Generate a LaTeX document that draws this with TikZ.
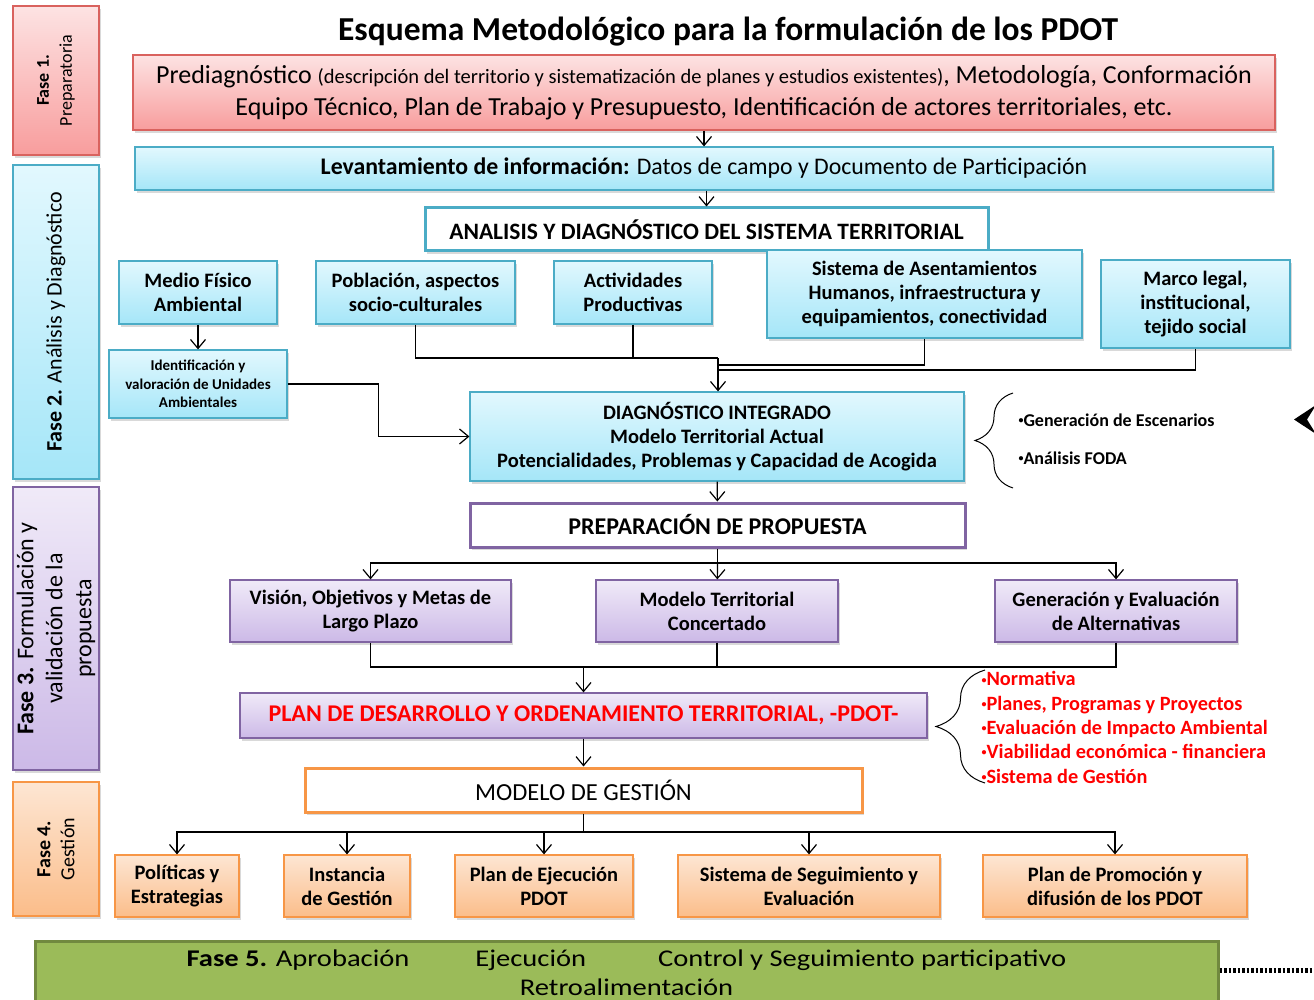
\documentclass[tikz,border=0pt]{standalone}
\usepackage{fontspec}
\setmainfont{Carlito}
\newfontfamily\widefont[FakeStretch = 1.19]{Carlito}
\usetikzlibrary{
    shadows,
    decorations.pathreplacing,
    arrows.meta,
    calc
}
\definecolor{pinkA}{HTML}{FDE3E3}
\definecolor{pinkB}{HTML}{F89D9D}
\definecolor{pinkD}{HTML}{D9625E}
\definecolor{cyanA}{HTML}{E2F8FE}
\definecolor{cyanB}{HTML}{A5E6F8}
\definecolor{cyanD}{HTML}{4BACC6}
\definecolor{purA}{HTML}{F0EAF8}
\definecolor{purB}{HTML}{CCB9E7}
\definecolor{purD}{HTML}{8064A2}
\definecolor{oraA}{HTML}{FDE6D3}
\definecolor{oraB}{HTML}{FBBD8A}
\definecolor{oraD}{HTML}{F79646}
\definecolor{grnF}{HTML}{9BBB59}
\definecolor{grnD}{HTML}{71893F}
\newcommand{\fs}[2]{\fontsize{#1}{#2}\selectfont}
\newcommand{\bul}{\raisebox{.3ex}{\fs{10}{10}•}}
\tikzset {
    box/.style = {
        draw, line width = 1.2pt, inner sep = 0pt, align = center,
        drop shadow = {opacity = .3, shadow xshift = 2pt, shadow yshift = -3pt}
    },
    pink box/.style = {box, draw = pinkD, top color = pinkA, bottom color = pinkB},
    cyan box/.style = {box, draw = cyanD, top color = cyanA, bottom color = cyanB},
    purple box/.style = {box, draw = purD, top color = purA, bottom color = purB},
    orange box/.style = {box, draw = oraD, top color = oraA, bottom color = oraB},
    frame box/.style = {box, fill = white, line width = 3pt},
    %
    phase/.style = {
        draw, line width = 1.2pt, rotate = 90, inner sep = 0pt,
        align = center, minimum height = 86,
        drop shadow = {opacity = .3, shadow xshift = 2pt, shadow yshift = -3pt}
    },
    line/.style = {line width = 1.2pt},
    arr/.style = {line, -{Straight Barb[length = 9pt, width = 15pt]}},
    curly/.style = {
        decorate, line width = 1pt,
        decoration = {brace, amplitude = #1}
    },
    boxtext/.style = {font = \fs{20.5}{24}\bfseries}
}

\begin{document}
\begin{tikzpicture}[x = 1pt, y = -1pt]
    \useasboundingbox (0, 0) rectangle (1314, 1000);

    % fases
    \node (f1) [phase, top color = pinkA, bottom color = pinkB, draw = pinkD,
        minimum width = 149, font = \fs{18}{23}] at (56, 80.5)
        {\textbf{Fase 1.}\\Preparatoria};
    \node (f2) [phase, top color = cyanA, bottom color = cyanB, draw = cyanD,
        minimum width = 314, font = \fs{22}{24}] at (56, 322)
        {\textbf{Fase 2.} Análisis y Diagnóstico};
    \node (f3) [phase, top color = purA, bottom color = purB, draw = purD,
        minimum width = 283, font = \fs{24}{29}] at (56, 628.5)
        {\textbf{Fase 3.} Formulación y\\validación de la\\propuesta};
    \node (f4) [phase, top color = oraA, bottom color = oraB, draw = oraD,
        minimum width = 134, font = \fs{20}{24}] at (56, 849)
        {\textbf{Fase 4.}\\Gestión};

    \node (tit) [font = \fs{33.5}{36}\bfseries] at (728, 32)
        {Esquema Metodológico para la formulación de los PDOT};

    \node (pre) [pink box, minimum width = 1142, minimum height = 75,
        font = \fs{26}{32}] at (704, 92.5)
        {Prediagnóstico {\fs{20.5}{20}(descripción del territorio y sistematización
        de planes y estudios existentes)}, Metodología, Conformación\\
        Equipo Técnico, Plan de Trabajo y Presupuesto, Identificación de actores
        territoriales, etc.};
    \node (lev) [cyan box, minimum width = 1138, minimum height = 43,
        font = \fs{23.8}{24}] at (704, 168.5)
        {\textbf{Levantamiento de información:} Datos de campo y Documento de
        Participación};
    \node (ana) [frame box, draw = cyanD, minimum width = 563, minimum height = 43,
        font = \fs{23.5}{24}\bfseries] at (706.5, 229.5)
        {ANALISIS Y DIAGNÓSTICO DEL SISTEMA TERRITORIAL};

    % subsistemas
    \node (med) [cyan box, boxtext, minimum width = 158, minimum height = 63]
        at (198, 292.5) {Medio Físico\\Ambiental};
    \node (pob) [cyan box, boxtext, minimum width = 199, minimum height = 63]
        at (415.5, 292.5) {Población, aspectos\\socio-culturales};
    \node (act) [cyan box, boxtext, minimum width = 158, minimum height = 63]
        at (633, 292.5) {Actividades\\Productivas};
    \node (asn) [cyan box, boxtext, minimum width = 315, minimum height = 88]
        at (924.5, 294)
        {Sistema de Asentamientos\\Humanos, infraestructura y\\equipamientos, conectividad};
    \node (mar) [cyan box, boxtext, minimum width = 189, minimum height = 88]
        at (1195.5, 304) {Marco legal,\\institucional,\\tejido social};
    \node (idn) [cyan box, minimum width = 178, minimum height = 68,
        font = \fs{15}{18.5}\bfseries] at (198, 384)
        {Identificación y\\valoración de Unidades\\Ambientales};

    \node (diag) [cyan box, boxtext, minimum width = 494, minimum height = 89]
        at (717, 436.5)
        {DIAGNÓSTICO INTEGRADO\\Modelo Territorial Actual\\Potencialidades, Problemas
        y Capacidad de Acogida};
    \node (esc) [anchor = west, align = left, font = \fs{18}{38}\bfseries]
        at (1015, 439) {\bul Generación de Escenarios\\\bul Análisis FODA};

    \node (prep) [frame box, draw = purD, minimum width = 495, minimum height = 44,
        font = \fs{24}{24}\bfseries] at (717.5, 525)
        {PREPARACIÓN DE PROPUESTA};

    \node (vis) [purple box, boxtext, minimum width = 281, minimum height = 62]
        at (370.5, 611) {Visión, Objetivos y Metas de\\Largo Plazo};
    \node (mod) [purple box, boxtext, minimum width = 242, minimum height = 62]
        at (717, 611) {Modelo Territorial\\Concertado};
    \node (gen) [purple box, boxtext, minimum width = 242, minimum height = 62]
        at (1116, 611) {Generación y Evaluación\\de Alternativas};

    \node (plan) [purple box, minimum width = 687, minimum height = 45,
        font = \fs{24}{24}\bfseries, text = red] at (583.5, 715.5)
        {PLAN DE DESARROLLO Y ORDENAMIENTO TERRITORIAL, -PDOT-};
    \node (ins) [anchor = west, align = left, text = red,
        font = \fs{20.3}{24.3}\bfseries] at (978, 727.5)
        {\bul Normativa\\\bul Planes, Programas y Proyectos\\\bul Evaluación de Impacto Ambiental\\
        \bul Viabilidad económica - financiera\\\bul Sistema de Gestión};

    \node (mg) [frame box, draw = oraD, minimum width = 557, minimum height = 44,
        font = \fs{24.5}{24}] at (583.5, 790) {MODELO DE GESTIÓN};

    % gestion
    \node (pol) [orange box, boxtext, minimum width = 124, minimum height = 62]
        at (177, 886) {Políticas y\\Estrategias};
    \node (ist) [orange box, boxtext, minimum width = 126, minimum height = 62]
        at (347, 886) {Instancia\\de Gestión};
    \node (pej) [orange box, boxtext, minimum width = 178, minimum height = 62]
        at (544, 886) {Plan de Ejecución\\PDOT};
    \node (sis) [orange box, boxtext, minimum width = 262, minimum height = 62]
        at (809, 886) {Sistema de Seguimiento y\\Evaluación};
    \node (pro) [orange box, boxtext, minimum width = 264, minimum height = 62]
        at (1115, 886) {Plan de Promoción y\\difusión de los PDOT};

    \node (f5) [draw = grnD, fill = grnF, line width = 3pt, inner sep = 0pt,
        align = center, minimum width = 1183, minimum height = 63,
        font = \widefont\fs{24}{29}] at (626.5, 972.5)
        {\textbf{Fase 5.} Aprobación\hspace{66pt}Ejecución\hspace{72pt}Control y
        Seguimiento participativo\\Retroalimentación};

    % conexiones
    \draw [arr] (pre) -- (lev);
    \draw [arr] (lev.south -| ana) -- (ana);
    \draw [arr] (med) -- (idn);
    \draw [arr] (idn.east) -- ++(91, 0) |- (diag.west);
    \coordinate (m1) at (718, 358);
    \coordinate (m2) at (718, 365);
    \coordinate (m3) at (718, 370);
    \draw [line] (pob) |- (m1);
    \draw [line] (act) |- (m1);
    \draw [line] (asn) |- (m2);
    \draw [line] (mar) |- (m3);
    \draw [arr] (m1) -- (m1 |- diag.north);
    \draw [curly = 38pt] (1013, 488) -- (1013, 393);

    \draw [arr] (diag) -- (prep);
    \coordinate (p) at (717.5, 563);
    \draw [line] (prep) -- (p);
    \draw [arr] (p) -| (vis);
    \draw [arr] (p) -| (gen);
    \draw [arr] (p) -- (mod);

    \coordinate (q) at (583.5, 667);
    \draw [line] (vis) |- (q);
    \draw [line] (mod) |- (q);
    \draw [line] (gen) |- (q);
    \draw [arr] (q) -- (plan);
    \draw [curly = 49pt] (985, 783) -- (985, 670);
    \draw [arr] (plan) -- (mg);

    \coordinate (r) at (583.5, 832);
    \draw [line] (mg) -- (r);
    \draw [arr] (r) -| (pol);
    \draw [arr] (r) -| (ist);
    \draw [arr] (r) -| (pej);
    \draw [arr] (r) -| (sis);
    \draw [arr] (r) -| (pro);

    \draw [line width = 5pt, dash pattern = on 2.5pt off 2pt] (f5.east |- 0, 970) -- ++(100, 0);
    \fill (1294, 419.5) -- (1316, 405) -- (1307, 419.5) -- (1316, 434) -- cycle;
\end{tikzpicture}
\end{document}
